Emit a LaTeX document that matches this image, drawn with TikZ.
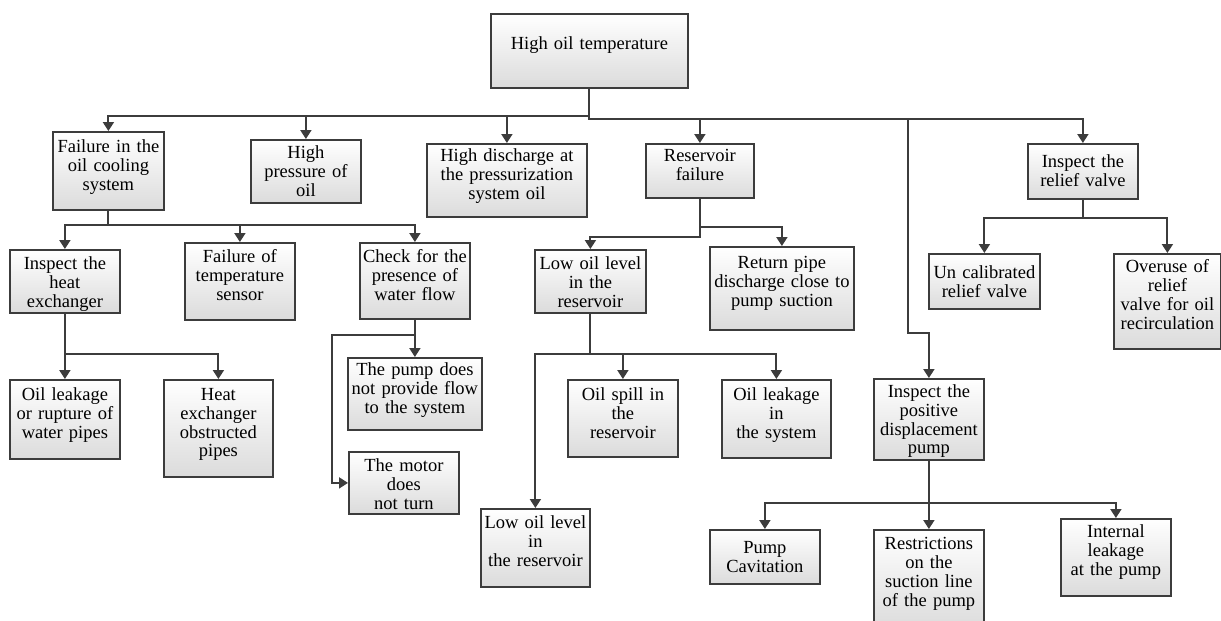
\documentclass[tikz,border=0pt]{standalone}
\usepackage{fontspec}
\setmainfont{Liberation Serif}
\usetikzlibrary{arrows.meta,shadows}
\definecolor{linegray}{HTML}{3C3C3C}

\begin{document}
\begin{tikzpicture}[x=1pt, y=-1pt, line width=1.8pt, >={Triangle[width=11pt,length=9pt]},
    font=\fontsize{18.5}{18.8}\selectfont]
  % cause box: {width}{first baseline from top}{rest of the height}
  \tikzset{cause/.style n args={3}{draw=linegray, top color=white, bottom color=black!14,
      drop shadow={shadow xshift=1.5pt, shadow yshift=-1.5pt, opacity=.3, fill=black},
      anchor=north west, inner sep=0pt, align=center,
      text width=#1pt, text height=#2pt, text depth=#3pt},
    link/.style={->, draw=linegray, line width=2pt}}
  \useasboundingbox (0,0) rectangle (1221,621);

  % top event
  \node[cause={197}{36}{38}] (root) at (490,13) {High oil temperature};

  % first level
  \node[cause={111}{21}{57}] (fail) at (52,131) {Failure in the\\oil cooling\\system};
  \node[cause={110}{19}{44}] (hpress) at (250,139) {High\\pressure of\\oil};
  \node[cause={160}{18}{55}] (hdis) at (426,143) {High discharge at\\the pressurization\\system oil};
  \node[cause={108}{18}{36}] (res) at (645,143) {Reservoir\\failure};
  \node[cause={110}{24}{31}] (relief) at (1027,143) {Inspect the\\relief valve};

  % cooling system
  \node[cause={110}{20}{43}] (heat) at (9,249) {Inspect the\\heat\\exchanger};
  \node[cause={110}{19.5}{57.5}] (temp) at (184,242) {Failure of\\temperature\\sensor};
  \node[cause={110}{19.5}{56.5}] (check) at (359,242) {Check for the\\presence of\\water flow};
  \node[cause={110}{20.5}{58.5}] (rupt) at (9,379) {Oil leakage\\or rupture of\\water pipes};
  \node[cause={109}{20.5}{76.5}] (obstr) at (163,379) {Heat\\exchanger\\obstructed\\pipes};
  \node[cause={134}{18}{54}] (noflow) at (347,357) {The pump does\\not provide flow\\to the system};
  \node[cause={110}{19.5}{42.5}] (motor) at (348,451) {The motor\\does\\not turn};

  % reservoir
  \node[cause={111}{19.5}{43.5}] (lowoil) at (534,249) {Low oil level\\in the\\reservoir};
  \node[cause={144}{22}{61}] (ret) at (709,246) {Return pipe\\discharge close to\\pump suction};
  \node[cause={110}{20.5}{56.5}] (spill) at (567,379) {Oil spill in\\the\\reservoir};
  \node[cause={109}{20.5}{57.5}] (leaksys) at (721,379) {Oil leakage\\in\\the system};
  \node[cause={109}{20}{58}] (lowoilb) at (480,508) {Low oil level\\in\\the reservoir};

  % relief valve
  \node[cause={111}{25}{30}] (uncal) at (928,253) {Un calibrated\\relief valve};
  \node[cause={107}{19}{76}] (overuse) at (1113,253) {Overuse of\\relief\\valve for oil\\recirculation};

  % pump
  \node[cause={110}{18.5}{62.5}] (pump) at (873,378) {Inspect the\\positive\\displacement\\pump};
  \node[cause={110}{24}{30}] (cav) at (709,529) {Pump\\Cavitation};
  \node[cause={110}{20}{80}] (restr) at (873,529) {Restrictions\\on the\\suction line\\of the pump};
  \node[cause={110}{18.5}{58.5}] (intleak) at (1060,518) {Internal\\leakage\\at the pump};

  % connectors
  \foreach \c in {fail,hpress,hdis}
    \draw[link] (root.south) -- ++(0,27) -| (\c.north);
  \foreach \c in {res,relief}
    \draw[link] (root.south) -- ++(0,30) -| (\c.north);
  \coordinate (jog) at (908,333);
  \draw[link] (root.south) -- ++(0,30) -| (jog) -| (pump.north);

  \foreach \c in {heat,temp,check}
    \draw[link] (fail.south) -- ++(0,14) -| (\c.north);
  \foreach \c in {rupt,obstr}
    \draw[link] (heat.south) -- ++(0,40) -| (\c.north);
  \draw[link] (check.south) -- (noflow.north);
  \draw[link] (check.south) -- ++(0,15) -| ([xshift=-16pt]motor.west) -- (motor.west);

  \draw[link] (res.south) -- ++(0,38) -| (lowoil.north);
  \draw[link] (res.south) -- ++(0,28) -| (ret.north);
  \foreach \c in {lowoilb,spill,leaksys}
    \draw[link] (lowoil.south) -- ++(0,40) -| (\c.north);

  \foreach \c in {uncal,overuse}
    \draw[link] (relief.south) -- ++(0,18) -| (\c.north);
  \foreach \c in {cav,restr,intleak}
    \draw[link] (pump.south) -- ++(0,42) -| (\c.north);
\end{tikzpicture}
\end{document}
